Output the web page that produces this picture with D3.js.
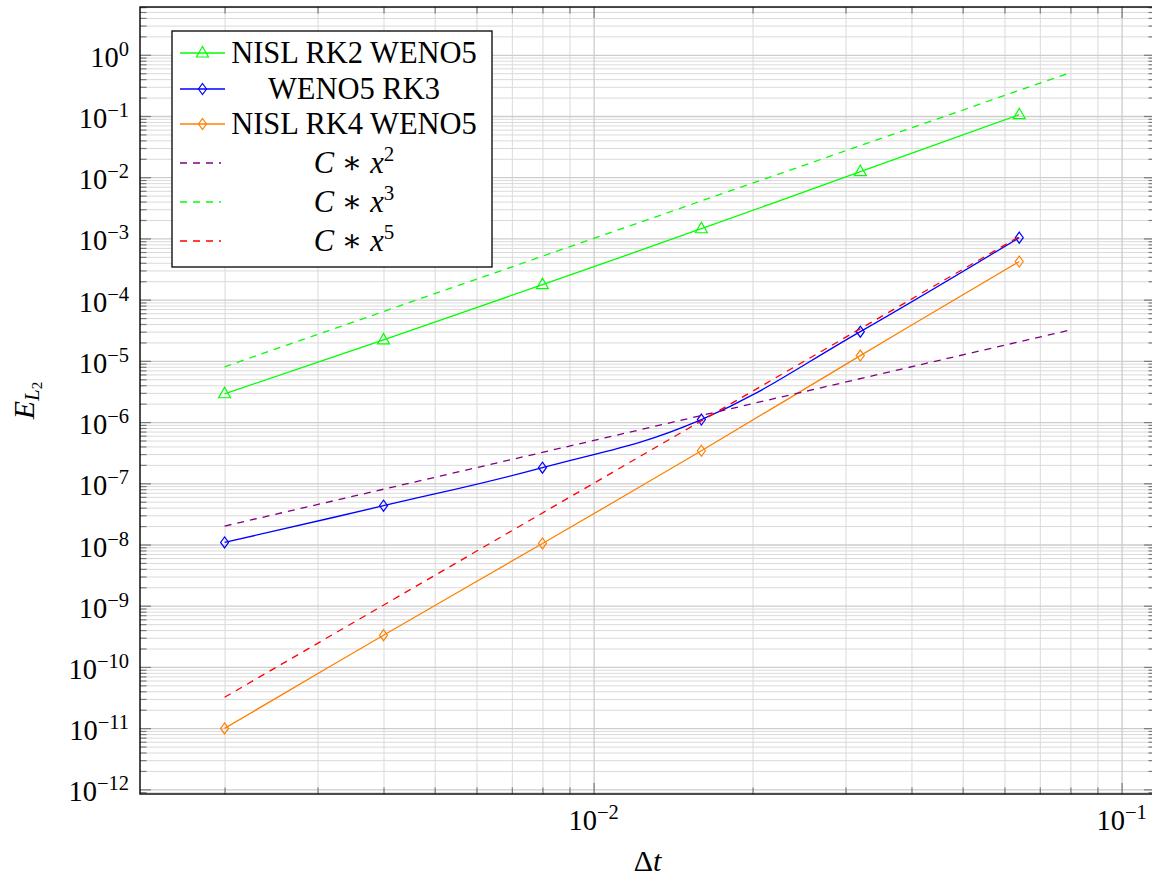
<!DOCTYPE html>
<html><head><meta charset="utf-8">
<script src="https://cdn.jsdelivr.net/npm/d3@7"></script>
<style>body{margin:0;background:#fff}svg{display:block}</style>
</head><body>
<svg id="c" width="1152" height="877"></svg>
<script>
// ---- data ----
const dt = [0.002, 0.004, 0.008, 0.016, 0.032, 0.064];
const errRK2 = [2.9e-6, 2.2e-5, 1.76e-4, 1.44e-3, 1.23e-2, 0.105];   // NISL RK2 WENO5
const errRK3 = [1.08e-8, 4.3e-8, 1.8e-7, 1.1e-6, 3.0e-5, 1.03e-3];   // WENO5 RK3
const errRK4 = [9.9e-12, 3.3e-10, 1.04e-8, 3.4e-7, 1.22e-5, 4.2e-4]; // NISL RK4 WENO5
const refX2x = [0.002, 0.08],  refX2y = [2.0e-8, 3.2e-5];   // C*x^2
const refX3x = [0.002, 0.08],  refX3y = [8.0e-6, 0.512];    // C*x^3
const refX5x = [0.002, 0.064], refX5y = [3.2e-11, 1.07e-3]; // C*x^5
const xMajor = [0.01, 0.1];
const xMajorExp = ["−2", "−1"];
const yMajorExp = [0,-1,-2,-3,-4,-5,-6,-7,-8,-9,-10,-11,-12];
const legendLabels = ["NISL RK2 WENO5", "WENO5 RK3", "NISL RK4 WENO5", "C*x^2", "C*x^3", "C*x^5"];

const series = [
  {name: legendLabels[0], x: dt, y: errRK2, color: "#00ff00", marker: "triangle", dash: null},
  {name: legendLabels[1], x: dt, y: errRK3, color: "#0000ff", marker: "diamond", dash: null},
  {name: legendLabels[2], x: dt, y: errRK4, color: "#ff8000", marker: "diamond", dash: null},
  {name: legendLabels[3], x: refX2x, y: refX2y, color: "#800080", marker: null, dash: "7,6", pow: "2"},
  {name: legendLabels[4], x: refX3x, y: refX3y, color: "#00ff00", marker: null, dash: "7,6", pow: "3"},
  {name: legendLabels[5], x: refX5x, y: refX5y, color: "#ff0000", marker: null, dash: "7,6", pow: "5"},
];

// ---- layout ----
const L = 140, R = 1155, T = 7, B = 794;
const svg = d3.select("#c");
const FONT = "'Liberation Serif', 'DejaVu Serif', serif";

// enlarge log limits by 10% like pgfplots
const allX = series.flatMap(s => s.x), allY = series.flatMap(s => s.y);
function enl(ext){ const a=Math.log10(ext[0]), b=Math.log10(ext[1]), p=(b-a)*0.1; return [Math.pow(10,a-p), Math.pow(10,b+p)]; }
const x = d3.scaleLog().domain(enl(d3.extent(allX))).range([L, R]);
const y = d3.scaleLog().domain(enl(d3.extent(allY))).range([B, T]);

function minorVals(dom, e0, e1){
  const v=[]; for(let e=e0;e<=e1;e++) for(let k=2;k<=9;k++){ const t=k*Math.pow(10,e); if(t>=dom[0]&&t<=dom[1]) v.push(t);} return v;
}
const xMinor = minorVals(x.domain(), -4, 0);
const yMajor = yMajorExp.map(e => Math.pow(10, e));
const yMinor = minorVals(y.domain(), -13, 1);

// ---- grid ----
const grid = svg.append("g");
function gridAxis(g, vals, col, w){
  g.append("g").attr("transform",`translate(0,${B})`)
    .call(d3.axisBottom(x).tickValues(vals.x).tickSize(-(B-T)).tickFormat(""))
    .call(a=>{a.select(".domain").remove(); a.selectAll("line").attr("stroke",col).attr("stroke-width",w);});
  g.append("g").attr("transform",`translate(${L},0)`)
    .call(d3.axisLeft(y).tickValues(vals.y).tickSize(-(R-L)).tickFormat(""))
    .call(a=>{a.select(".domain").remove(); a.selectAll("line").attr("stroke",col).attr("stroke-width",w);});
}
gridAxis(grid, {x:xMinor, y:yMinor}, "#dadada", 1);
gridAxis(grid, {x:xMajor, y:yMajor}, "#cdcdcd", 1.3);

// ---- tick marks (inward, all four sides) ----
const tk = svg.append("g");
function tickAxis(gen, tr, vals, size){
  tk.append("g").attr("transform",tr)
    .call(gen.tickValues(vals).tickSize(-size).tickFormat(""))
    .call(a=>{a.select(".domain").remove(); a.selectAll("line").attr("stroke","#7a7a7a").attr("stroke-width",1.2);});
}
tickAxis(d3.axisBottom(x), `translate(0,${B})`, xMinor, 6.5);
tickAxis(d3.axisBottom(x), `translate(0,${B})`, xMajor, 11);
tickAxis(d3.axisTop(x), `translate(0,${T})`, xMinor, 6.5);
tickAxis(d3.axisTop(x), `translate(0,${T})`, xMajor, 11);
tickAxis(d3.axisLeft(y), `translate(${L},0)`, yMinor, 6.5);
tickAxis(d3.axisLeft(y), `translate(${L},0)`, yMajor, 11);
tickAxis(d3.axisRight(y), `translate(${R},0)`, yMinor, 6.5);
tickAxis(d3.axisRight(y), `translate(${R},0)`, yMajor, 11);

// ---- series ----
const lineGen = d3.line().x(d=>x(d[0])).y(d=>y(d[1])).curve(d3.curveCardinal.tension(-0.2));
const plot = svg.append("g");
function marker(g, type, cx, cy, col){
  if(type==="triangle"){
    g.append("path").attr("d",`M${cx},${cy-6.5} L${cx+6},${cy+4} L${cx-6},${cy+4} Z`)
      .attr("fill","none").attr("stroke",col).attr("stroke-width",1.2);
  } else if(type==="diamond"){
    g.append("path").attr("d",`M${cx},${cy-5.5} L${cx+4},${cy} L${cx},${cy+5.5} L${cx-4},${cy} Z`)
      .attr("fill","none").attr("stroke",col).attr("stroke-width",1.2);
  }
}
series.forEach(s=>{
  const pts = s.x.map((v,i)=>[v, s.y[i]]);
  plot.append("path").attr("d", lineGen(pts)).attr("fill","none")
    .attr("stroke", s.color).attr("stroke-width",1.3)
    .attr("stroke-dasharray", s.dash);
  if(s.marker) pts.forEach(p=>marker(plot, s.marker, x(p[0]), y(p[1]), s.color));
});

// ---- axis frame ----
svg.append("rect").attr("x",L).attr("y",T).attr("width",R-L).attr("height",B-T)
  .attr("fill","none").attr("stroke","#000").attr("stroke-width",1.4);

// ---- tick labels ----
yMajor.forEach((v,i)=>{
  const t = svg.append("text").attr("x",129).attr("y",y(v)+12).attr("text-anchor","end")
    .attr("font-family",FONT).attr("font-size",28.5).attr("fill","#000");
  t.append("tspan").text("10");
  const e = yMajorExp[i];
  t.append("tspan").attr("dy",-11).attr("font-size",20.5).text(e===0 ? "0" : "−" + Math.abs(e));
});
xMajor.forEach((v,i)=>{
  const t = svg.append("text").attr("x",x(v)).attr("y",830).attr("text-anchor","middle")
    .attr("font-family",FONT).attr("font-size",28.5).attr("fill","#000");
  t.append("tspan").text("10");
  t.append("tspan").attr("dy",-11).attr("font-size",20.5).text(xMajorExp[i]);
});

// ---- axis labels ----
svg.append("text").attr("x",(L+R)/2).attr("y",871).attr("text-anchor","middle")
  .attr("font-family",FONT).attr("font-size",30)
  .call(t=>{t.append("tspan").text("Δ"); t.append("tspan").attr("font-style","italic").text("t");});
svg.append("text").attr("transform",`translate(34,${(T+B)/2}) rotate(-90)`).attr("text-anchor","middle")
  .attr("font-family",FONT).attr("font-size",30)
  .call(t=>{
    t.append("tspan").attr("font-style","italic").text("E");
    t.append("tspan").attr("font-style","italic").attr("font-size",21).attr("dy",5).text("L");
    t.append("tspan").attr("font-size",15).attr("dy",3).text("2");
  });

// ---- legend ----
const lg = svg.append("g");
lg.append("rect").attr("x",172).attr("y",31).attr("width",320).attr("height",236)
  .attr("fill","#fff").attr("stroke","#000").attr("stroke-width",1.3);
const rowY = [53, 89, 124, 163, 202, 241];
series.forEach((s,i)=>{
  const cy = rowY[i];
  if(s.marker){
    lg.append("line").attr("x1",180).attr("x2",225).attr("y1",cy).attr("y2",cy)
      .attr("stroke",s.color).attr("stroke-width",1.3);
    marker(lg, s.marker, 202.5, cy, s.color);
  } else {
    lg.append("line").attr("x1",180).attr("x2",221).attr("y1",cy).attr("y2",cy)
      .attr("stroke",s.color).attr("stroke-width",1.3).attr("stroke-dasharray",s.dash);
  }
  const t = lg.append("text").attr("x",354).attr("y",cy+10).attr("text-anchor","middle")
    .attr("font-family",FONT).attr("font-size",30.5).attr("fill","#000");
  if(s.pow){
    t.append("tspan").attr("font-style","italic").text("C");
    t.append("tspan").text(" ∗ ");
    t.append("tspan").attr("font-style","italic").text("x");
    t.append("tspan").attr("dy",-12).attr("font-size",21).text(s.pow);
  } else {
    t.text(s.name);
  }
});
</script>
</body></html>
